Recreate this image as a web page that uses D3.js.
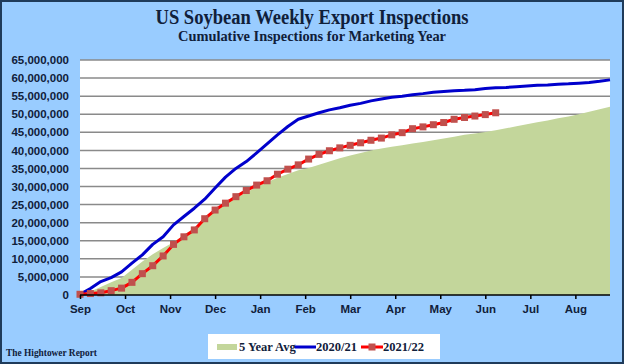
<!DOCTYPE html>
<html><head><meta charset="utf-8">
<script src="https://cdn.jsdelivr.net/npm/d3@7"></script>
<style>html,body{margin:0;padding:0;background:#99CCFF;} svg{display:block;}</style>
</head><body>
<script>
// ---- data (values in millions) ----
const monthLabels = ["Sep","Oct","Nov","Dec","Jan","Feb","Mar","Apr","May","Jun","Jul","Aug"];
const yTickValues = [0,5,10,15,20,25,30,35,40,45,50,55,60,65];
const seriesNames = ["5 Year Avg","2020/21","2021/22"];
const avg5 = [0,1.0,2.2,3.5,4.7,7.0,9.3,11.3,13.0,14.6,16.6,18.6,21.0,23.6,25.5,26.9,28.3,30.0,31.2,32.4,33.5,34.5,35.1,36.0,36.9,37.8,38.6,39.3,40.0,40.5,41.0,41.4,41.9,42.3,42.8,43.3,43.8,44.3,44.7,45.1,45.6,46.1,46.7,47.2,47.8,48.3,48.9,49.4,50.0,50.7,51.4,52.1];
const y2020 = [0.2,1.8,3.7,4.8,6.4,8.8,11.1,14.0,16.1,19.4,21.7,24.0,26.5,29.6,32.6,35.0,36.9,39.3,41.8,44.3,46.6,48.6,49.5,50.4,51.2,51.8,52.5,53.0,53.7,54.2,54.7,55.0,55.4,55.7,56.1,56.3,56.5,56.6,56.8,57.1,57.3,57.4,57.6,57.8,58.0,58.1,58.3,58.4,58.6,58.8,59.1,59.5];
const y2021 = [0.2,0.4,0.6,1.2,1.9,3.5,5.9,8.1,10.8,14.0,16.1,18.0,21.1,23.5,25.4,27.2,28.9,30.4,31.6,33.4,34.8,36.0,37.6,38.9,39.9,40.7,41.4,42.1,42.8,43.4,44.3,44.9,46.0,46.5,47.1,47.7,48.6,49.1,49.5,49.9,50.4];
const UNIT = 1e6;
const weeksInYear = 52;

const W = 624, H = 364;
const M = {left:80, right:610, top:60, bottom:295};
const textCol = "#10203A";

const svg = d3.select("body").append("svg").attr("width", W).attr("height", H);
svg.append("rect").attr("x",1).attr("y",1).attr("width",W-2).attr("height",H-2)
  .attr("fill","#99CCFF").attr("stroke","#1F3B5A").attr("stroke-width",2);

// titles
svg.append("text").attr("x",312).attr("y",24).attr("text-anchor","middle")
  .attr("font-family","'Liberation Serif', serif").attr("font-weight","bold").attr("font-size",20)
  .attr("fill",textCol).attr("textLength",313).attr("lengthAdjust","spacingAndGlyphs")
  .text("US Soybean Weekly Export Inspections");
svg.append("text").attr("x",312).attr("y",41).attr("text-anchor","middle")
  .attr("font-family","'Liberation Serif', serif").attr("font-weight","bold").attr("font-size",14)
  .attr("fill",textCol).attr("textLength",268).attr("lengthAdjust","spacingAndGlyphs")
  .text("Cumulative  Inspections for Marketing Year");

const x = d3.scaleLinear().domain([0, weeksInYear-1]).range([M.left, M.right]);
const y = d3.scaleLinear().domain([0, 65]).range([M.bottom, M.top]);

svg.append("rect").attr("x",M.left).attr("y",M.top).attr("width",M.right-M.left).attr("height",M.bottom-M.top).attr("fill","#FFFFFF");

// gridlines
svg.append("g").selectAll("line").data(yTickValues.filter(d=>d>0)).join("line")
  .attr("x1",M.left).attr("x2",M.right).attr("y1",d=>y(d)).attr("y2",d=>y(d))
  .attr("stroke","#8A8A8A").attr("stroke-width",1.5);

// y axis labels
const yAxis = d3.axisLeft(y).tickValues(yTickValues).tickSize(0).tickPadding(11)
  .tickFormat(d=>d3.format(",")(d*UNIT));
const gy = svg.append("g").attr("transform",`translate(${M.left},0)`).call(yAxis);
gy.select(".domain").remove();
gy.selectAll("text").attr("font-family","'Liberation Sans', Arial, sans-serif").attr("font-weight","bold")
  .attr("font-size",11.5).attr("fill",textCol);

// area
svg.append("path").datum(avg5)
  .attr("d", d3.area().x((d,i)=>x(i)).y0(y(0)).y1(d=>y(d)))
  .attr("fill","#C3D69B");

// blue line
svg.append("path").datum(y2020)
  .attr("d", d3.line().x((d,i)=>x(i)).y(d=>y(d)))
  .attr("fill","none").attr("stroke","#0000CC").attr("stroke-width",3).attr("stroke-linejoin","round");

// red line
svg.append("path").datum(y2021)
  .attr("d", d3.line().x((d,i)=>x(i)).y(d=>y(d)))
  .attr("fill","none").attr("stroke","#FF0000").attr("stroke-width",3).attr("stroke-linejoin","round");
svg.append("g").selectAll("rect").data(y2021).join("rect")
  .attr("x",(d,i)=>x(i)-3.5).attr("y",d=>y(d)-3.5).attr("width",7).attr("height",7)
  .attr("fill","#C0504D");

// x axis
const monthPos = monthLabels.map((m,i)=> i*weeksInYear/12);
const xAxis = d3.axisBottom(x).tickValues(monthPos).tickSize(4).tickPadding(6)
  .tickFormat((d,i)=>monthLabels[i]);
const gx = svg.append("g").attr("transform",`translate(0,${M.bottom})`).call(xAxis);
gx.select(".domain").attr("stroke","#000").attr("stroke-width",1.5).attr("d",`M${M.left},0H${M.right}`);
gx.selectAll(".tick line").attr("stroke","#000").attr("stroke-width",1.5);
gx.selectAll("text").attr("font-family","'Liberation Sans', Arial, sans-serif").attr("font-weight","bold")
  .attr("font-size",11.5).attr("fill",textCol);

// legend
const lg = svg.append("g");
lg.append("rect").attr("x",208).attr("y",334).attr("width",232).attr("height",25).attr("fill","#FFFFFF");
const legFont = "'Liberation Serif', serif";
lg.append("rect").attr("x",217).attr("y",344).attr("width",20).attr("height",6).attr("fill","#C3D69B");
lg.append("text").attr("x",239).attr("y",351).text(seriesNames[0]);
lg.append("line").attr("x1",295).attr("x2",316).attr("y1",347).attr("y2",347).attr("stroke","#0000CC").attr("stroke-width",3);
lg.append("text").attr("x",316).attr("y",351).text(seriesNames[1]);
lg.append("line").attr("x1",361).attr("x2",383).attr("y1",347).attr("y2",347).attr("stroke","#FF0000").attr("stroke-width",3);
lg.append("rect").attr("x",368.5).attr("y",343.5).attr("width",7).attr("height",7).attr("fill","#C0504D");
lg.append("text").attr("x",383).attr("y",351).text(seriesNames[2]);
lg.selectAll("text").attr("font-family",legFont).attr("font-weight","bold").attr("font-size",12.5)
  .attr("fill",textCol);

svg.append("text").attr("x",6).attr("y",356).attr("font-family",legFont).attr("font-weight","bold")
  .attr("font-size",10).attr("fill",textCol).attr("textLength",91).attr("lengthAdjust","spacingAndGlyphs")
  .text("The Hightower Report");
</script>
</body></html>
